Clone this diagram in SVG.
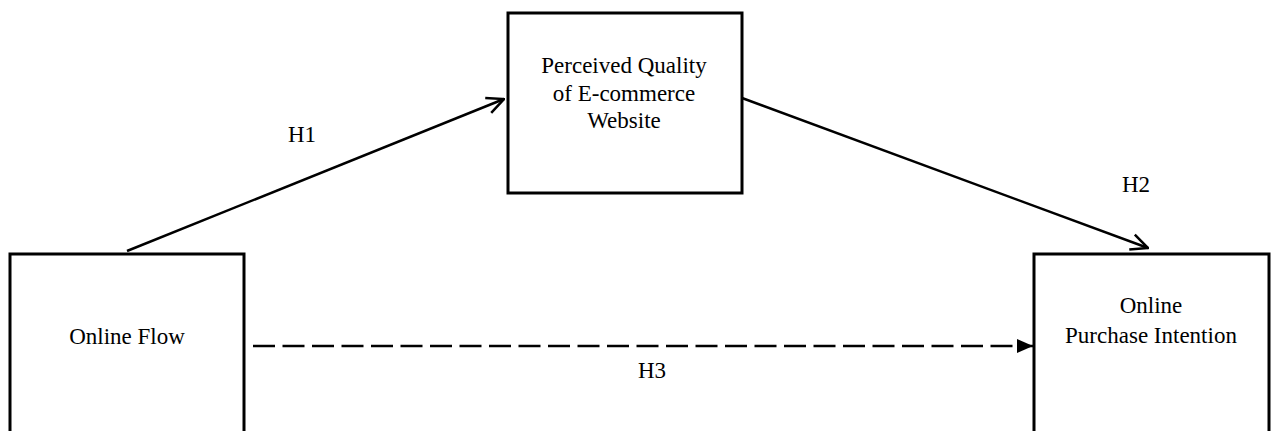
<svg xmlns="http://www.w3.org/2000/svg" width="1272" height="431" viewBox="0 0 1272 431">
<defs>
<style>
.box{fill:#fff;stroke:#000;stroke-width:3}
.t{font-family:"Liberation Serif","Times New Roman",serif;font-size:23px;fill:#000;text-anchor:middle}
.c{stroke:#000;stroke-width:2.5;fill:none}
</style>
<marker id="open" viewBox="0 0 20 20" refX="19" refY="10" markerWidth="20" markerHeight="20" markerUnits="userSpaceOnUse" orient="auto">
<path d="M2,2 L19,10 L2,18" fill="none" stroke="#000" stroke-width="2.5"/>
</marker>
<marker id="solid" viewBox="0 0 16 16" refX="16" refY="8" markerWidth="16" markerHeight="16" markerUnits="userSpaceOnUse" orient="auto">
<path d="M0,1 L16,8 L0,15 Z" fill="#000"/>
</marker>
</defs>
<rect width="1272" height="431" fill="#fff"/>
<g id="connectors">
<line class="c" x1="127" y1="251" x2="504" y2="99" marker-end="url(#open)"/>
<line class="c" x1="742" y1="98" x2="1148" y2="248" marker-end="url(#open)"/>
<line class="c" x1="253" y1="346" x2="1033" y2="346" stroke-dasharray="22,7.5" marker-end="url(#solid)"/>
<text class="t" x="302" y="142">H1</text>
<text class="t" x="1136" y="192">H2</text>
<text class="t" x="652" y="378">H3</text>
</g>
<g id="node-flow">
<rect class="box" x="10" y="254" width="234" height="190"/>
<text class="t" x="127" y="344">Online Flow</text>
</g>
<g id="node-quality">
<rect class="box" x="508" y="13" width="234" height="180"/>
<text class="t" x="624" y="73">Perceived Quality</text>
<text class="t" x="624" y="101">of E-commerce</text>
<text class="t" x="624" y="128">Website</text>
</g>
<g id="node-intention">
<rect class="box" x="1034" y="254" width="235" height="190"/>
<text class="t" x="1151" y="313">Online</text>
<text class="t" x="1151" y="343">Purchase Intention</text>
</g>
</svg>
